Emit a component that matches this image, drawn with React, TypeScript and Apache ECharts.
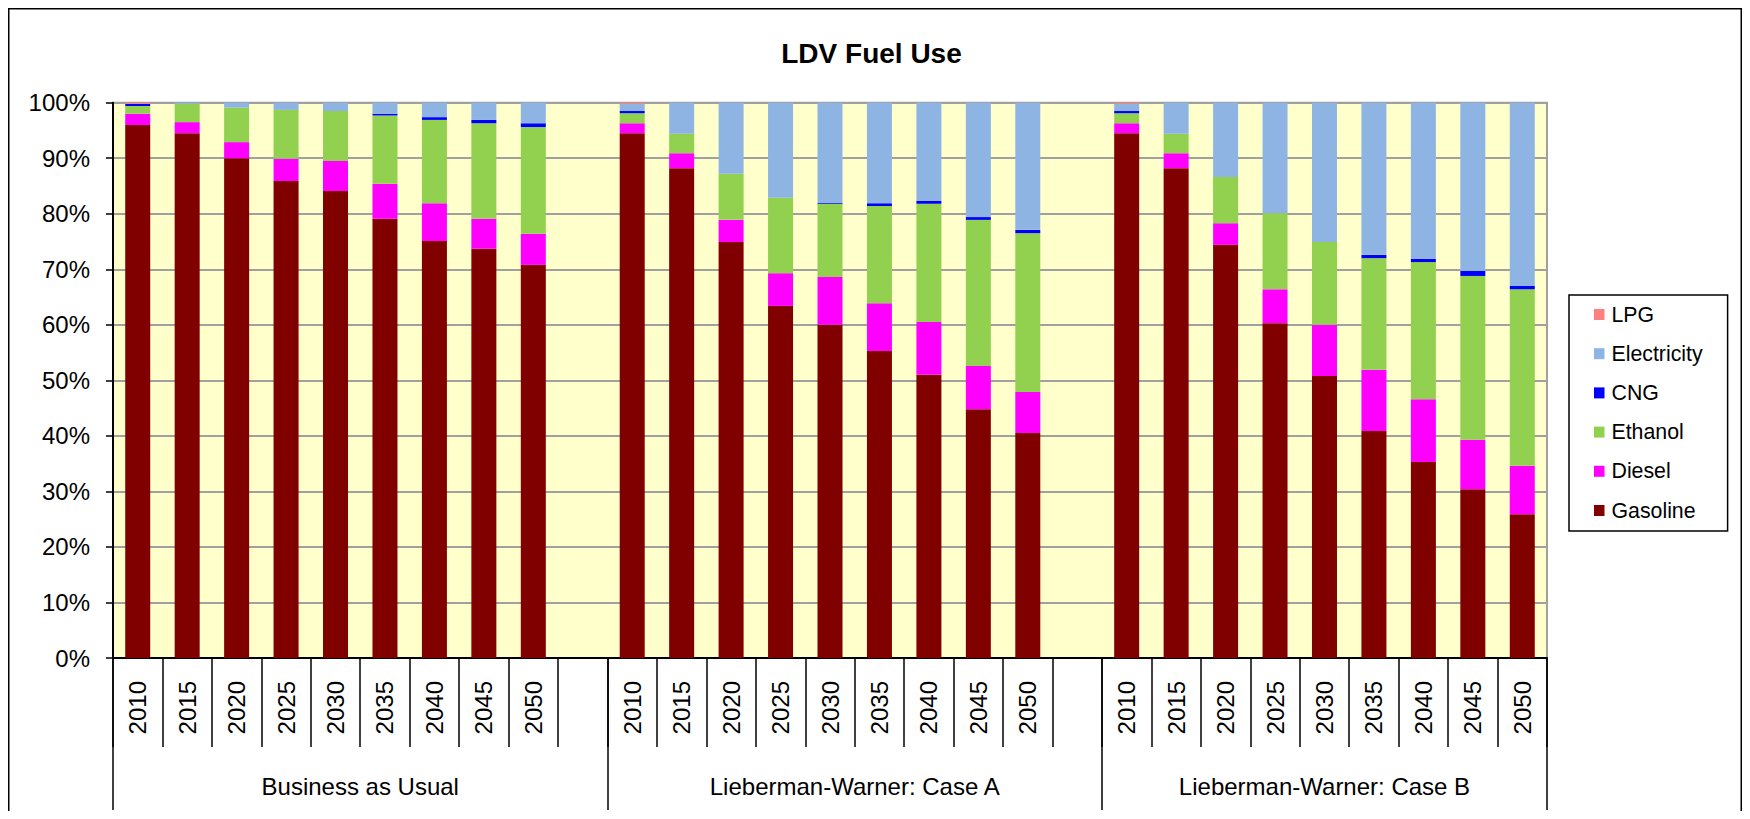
import React, { useEffect, useRef } from 'react';
import * as echarts from 'echarts';

// ---- data ----
const years = ['2010', '2015', '2020', '2025', '2030', '2035', '2040', '2045', '2050'];
const groupNames = ['Business as Usual', 'Lieberman-Warner: Case A', 'Lieberman-Warner: Case B'];
const groupSizes = [10, 10, 9]; // slots per group (incl. blank spacer)
const categories = [...years, '', ...years, '', ...years];

const gasoline = [96.0, 94.5, 90.0, 85.9, 84.1, 79.1, 75.1, 73.7, 70.8, null,
  94.5, 88.2, 74.9, 63.4, 60.0, 55.3, 51.0, 44.8, 40.5, null,
  94.5, 88.2, 74.4, 60.3, 50.8, 40.9, 35.3, 30.4, 25.9];
const diesel = [2.0, 2.0, 2.9, 4.0, 5.4, 6.3, 6.8, 5.4, 5.6, null,
  1.8, 2.7, 4.0, 5.9, 8.6, 8.6, 9.5, 7.8, 7.4, null,
  1.8, 2.7, 3.9, 6.1, 9.2, 11.0, 11.3, 8.9, 8.7];
const ethanol = [1.4, 3.3, 6.2, 8.8, 9.0, 12.3, 15.0, 17.2, 19.2, null,
  1.8, 3.5, 8.3, 13.6, 13.2, 17.5, 21.3, 26.3, 28.6, null,
  1.8, 3.5, 8.3, 13.7, 14.9, 20.1, 24.7, 29.5, 31.8];
const cng = [0.35, 0, 0, 0, 0, 0.3, 0.5, 0.6, 0.7, null,
  0.4, 0, 0, 0, 0.15, 0.5, 0.5, 0.5, 0.6, null,
  0.4, 0, 0, 0, 0, 0.6, 0.6, 0.9, 0.6];
const electricity = [0, 0.2, 0.9, 1.3, 1.5, 2.0, 2.6, 3.1, 3.7, null,
  1.3, 5.6, 12.8, 17.1, 18.05, 18.1, 17.7, 20.6, 22.9, null,
  1.3, 5.6, 13.4, 19.9, 25.1, 27.4, 28.1, 30.3, 33.0];
const lpg = [0.25, 0, 0, 0, 0, 0, 0, 0, 0, null,
  0.2, 0, 0, 0, 0, 0, 0, 0, 0, null,
  0.2, 0, 0, 0, 0, 0, 0, 0, 0];

const yTicks = [0, 10, 20, 30, 40, 50, 60, 70, 80, 90, 100];

const seriesDefs = [
  { name: 'Gasoline', data: gasoline, color: '#800000' },
  { name: 'Diesel', data: diesel, color: '#FF00FF' },
  { name: 'Ethanol', data: ethanol, color: '#92D050' },
  { name: 'CNG', data: cng, color: '#0000FF' },
  { name: 'Electricity', data: electricity, color: '#8EB4E3' },
  { name: 'LPG', data: lpg, color: '#FF8080' },
];

const FONT = 'Arial, "Liberation Sans", Helvetica, sans-serif';

export default function App() {
  const ref = useRef<HTMLDivElement>(null);

  useEffect(() => {
    if (!ref.current) return;
    const chart = echarts.init(ref.current, undefined, { renderer: 'svg' });

    const boundaries: number[] = [0];
    groupSizes.forEach((s) => boundaries.push(boundaries[boundaries.length - 1] + s));
    const centers = groupSizes.map((s, i) => boundaries[i] + s / 2);
    const total = boundaries[boundaries.length - 1];

    chart.setOption({
      animation: false,
      backgroundColor: '#FFFFFF',
      textStyle: { fontFamily: FONT },
      grid: {
        left: 105,
        right: 195,
        top: 94.7,
        bottom: 153,
        show: true,
        backgroundColor: '#FFFFCC',
        borderColor: '#A0A0A0',
        borderWidth: 2,
      },
      legend: {
        data: ['LPG', 'Electricity', 'CNG', 'Ethanol', 'Diesel', 'Gasoline'],
        orient: 'vertical',
        left: 1561,
        top: 287,
        icon: 'rect',
        itemWidth: 10.5,
        itemHeight: 11,
        itemGap: 18.2,
        padding: [9, 25, 10, 25],
        borderColor: '#000000',
        borderWidth: 1.5,
        selectedMode: false,
        textStyle: { fontSize: 21.3, color: '#000', fontFamily: FONT, lineHeight: 21, padding: [0, 0, 0, 2] },
      },
      xAxis: [
        {
          type: 'category',
          data: categories,
          position: 'bottom',
          axisLine: { show: true, lineStyle: { color: '#000', width: 2 } },
          axisTick: { show: true, interval: 0, length: 89, lineStyle: { color: '#000', width: 1.5 } },
          axisLabel: { interval: 0, rotate: 90, margin: 23, fontSize: 24, color: '#000', fontFamily: FONT },
          splitLine: { show: false },
        },
        {
          type: 'value',
          min: 0,
          max: total,
          position: 'bottom',
          axisLine: { show: false },
          splitLine: { show: false },
          axisTick: {
            show: true,
            customValues: boundaries,
            length: 152,
            lineStyle: { color: '#000', width: 1.5 },
          },
          axisLabel: {
            show: true,
            customValues: centers,
            margin: 116,
            fontSize: 24,
            color: '#000',
            fontFamily: FONT,
            formatter: (v: number) => {
              const i = centers.indexOf(v);
              return i >= 0 ? groupNames[i] : '';
            },
          },
        },
      ],
      yAxis: {
        type: 'value',
        min: yTicks[0],
        max: yTicks[yTicks.length - 1],
        interval: 10,
        axisLine: { show: true, lineStyle: { color: '#000', width: 2 } },
        axisTick: { show: true, length: 7, lineStyle: { color: '#000', width: 1.5 } },
        axisLabel: { formatter: '{value}%', fontSize: 24, color: '#000', margin: 23, fontFamily: FONT },
        splitLine: { show: true, lineStyle: { color: '#A0A0A0', width: 2 } },
      },
      series: seriesDefs.map((s) => ({
        name: s.name,
        type: 'bar',
        stack: 'fuel',
        xAxisIndex: 0,
        barWidth: 25,
        data: s.data,
        itemStyle: { color: s.color },
        emphasis: { disabled: true },
      })),
      graphic: [
        {
          type: 'text',
          x: 863.5,
          y: 45.5,
          style: {
            text: 'LDV Fuel Use',
            fontSize: 28,
            fontWeight: 'bold',
            fontFamily: FONT,
            fill: '#000',
            textAlign: 'center',
            textVerticalAlign: 'middle',
          },
        },
        { type: 'line', shape: { x1: 0.75, y1: 0, x2: 0.75, y2: 803 }, style: { stroke: '#000', lineWidth: 1.5 } },
        { type: 'line', shape: { x1: 0, y1: 0.75, x2: 1734, y2: 0.75 }, style: { stroke: '#000', lineWidth: 1.5 } },
        { type: 'line', shape: { x1: 1733.25, y1: 0, x2: 1733.25, y2: 803 }, style: { stroke: '#000', lineWidth: 1.5 } },
      ],
    });

    return () => chart.dispose();
  }, []);

  return <div ref={ref} style={{ width: 1734, height: 803 }} />;
}
